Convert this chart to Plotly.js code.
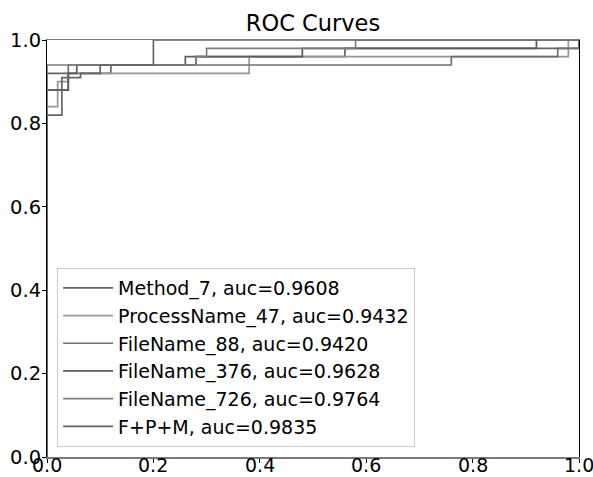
<!DOCTYPE html>
<html>
<head>
<meta charset="utf-8">
<script src="https://cdn.plot.ly/plotly-3.0.1.min.js"></script>
<style>html,body{margin:0;padding:0;background:#fff;}#chart{width:593px;height:477px;}</style>
</head>
<body>
<div id="chart"></div>
<script>
// Series names (legend labels)
const seriesNames = [
  "Method_7, auc=0.9608",
  "ProcessName_47, auc=0.9432",
  "FileName_88, auc=0.9420",
  "FileName_376, auc=0.9628",
  "FileName_726, auc=0.9764",
  "F+P+M, auc=0.9835"
];
// ROC step corners (false positive rate / true positive rate)
const fprMethod7 = [0, 0, 0.12, 0.28, 0.56, 1.0];
const tprMethod7 = [0, 0.92, 0.94, 0.96, 0.98, 1.0];
const fprProcess47 = [0, 0, 0.02, 0.04, 0.38, 0.98];
const tprProcess47 = [0, 0.84, 0.90, 0.92, 0.96, 1.0];
const fprFile88 = [0, 0, 0.04, 0.76, 0.96, 1.0];
const tprFile88 = [0, 0.88, 0.94, 0.96, 0.98, 1.0];
const fprFile376 = [0, 0, 0.04, 0.056, 0.26, 0.48, 0.92];
const tprFile376 = [0, 0.88, 0.92, 0.94, 0.96, 0.98, 1.0];
const fprFile726 = [0, 0, 0.28, 0.30, 0.58, 1.0];
const tprFile726 = [0, 0.94, 0.96, 0.98, 1.0, 1.0];
const fprFPM = [0, 0, 0.028, 0.063, 0.10, 0.20, 1.0];
const tprFPM = [0, 0.82, 0.91, 0.92, 0.94, 1.0, 1.0];
const tickVals = [0, 0.2, 0.4, 0.6, 0.8, 1.0];
const tickText = ["0.0", "0.2", "0.4", "0.6", "0.8", "1.0"];

const colors = ["#646464", "#989898", "#707070", "#5c5c5c", "#7e7e7e", "#656565"];
const xs = [fprMethod7, fprProcess47, fprFile88, fprFile376, fprFile726, fprFPM];
const ys = [tprMethod7, tprProcess47, tprFile88, tprFile376, tprFile726, tprFPM];

const traces = seriesNames.map((n, i) => ({
  x: xs[i], y: ys[i], name: n, type: "scatter", mode: "lines",
  line: {color: colors[i], width: 1.7, shape: "hv"},
  hoverinfo: "skip"
}));

const font = "DejaVu Sans, sans-serif";
const fs = 19.5;
// x tick labels placed tight under the axis (as in the reference)
const xTickAnnotations = tickVals.map((v, i) => ({
  x: v, xref: "x", y: 0, yref: "paper", yshift: -8,
  xanchor: "center", yanchor: "middle", showarrow: false, borderpad: 0,
  text: tickText[i], font: {family: font, size: 19, color: "#000"}
}));

const layout = {
  width: 593, height: 477,
  margin: {l: 47, r: 14, t: 40, b: 20, pad: 0},
  paper_bgcolor: "#fff", plot_bgcolor: "#fff",
  title: {text: "ROC Curves", x: 0.5, xref: "paper", xanchor: "center",
          y: 0.952, yref: "container", yanchor: "middle",
          font: {family: font, size: 22.5, color: "#000"}},
  font: {family: font, size: fs, color: "#000"},
  xaxis: {range: [0, 1], tickvals: tickVals, showticklabels: false, ticks: "outside",
          ticklen: 4, tickwidth: 1, tickcolor: "#000", showgrid: false, zeroline: false,
          showline: true, mirror: true, linecolor: "#7a7a7a", linewidth: 1.5},
  yaxis: {range: [0, 1], tickvals: tickVals, ticktext: tickText, ticks: "outside",
          ticklen: 4, tickwidth: 1, tickcolor: "#000", showgrid: false, zeroline: false,
          showline: true, mirror: true, linecolor: "#000", linewidth: 1,
          tickfont: {family: font, size: fs, color: "#000"}, ticklabelstandoff: -3},
  annotations: xTickAnnotations,
  showlegend: true,
  legend: {x: 0.019, y: 0.024, xanchor: "left", yanchor: "bottom",
           bgcolor: "rgba(255,255,255,0.8)", bordercolor: "#cccccc", borderwidth: 1,
           itemwidth: 50,
           font: {family: font, size: 19, color: "#000"}}
};
Plotly.newPlot("chart", traces, layout, {staticPlot: true, displayModeBar: false});
</script>
</body>
</html>
